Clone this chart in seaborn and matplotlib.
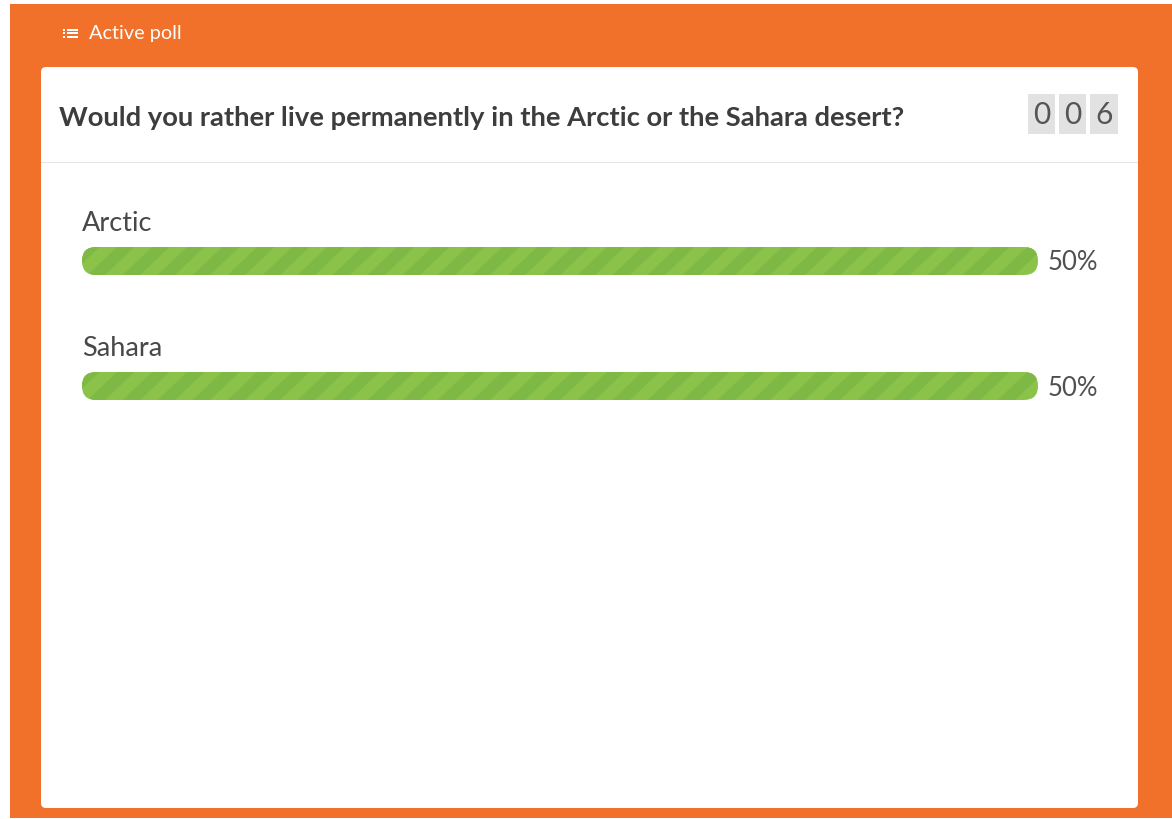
import matplotlib
matplotlib.use('Agg')
import matplotlib.pyplot as plt
import matplotlib.transforms as mtransforms
from matplotlib.patches import FancyBboxPatch, Rectangle, Polygon
import seaborn as sns

# poll data
categories = ['Arctic', 'Sahara']
percents = [50, 50]
question = 'Would you rather live permanently in the Arctic or the Sahara desert?'
vote_digits = ['0', '0', '6']
header = 'Active poll'

ORANGE = '#F1702A'
LIGHT_GREEN = '#8BC34A'
DARK_GREEN = '#7FB945'
W, H = 1172, 819

sns.set_theme(style='white')
plt.rcParams['font.family'] = ['Lato', 'DejaVu Sans']

fig = plt.figure(figsize=(W / 100, H / 100), dpi=100, facecolor='white')
# pixel coordinates, origin at top-left
px = mtransforms.Affine2D().scale(1, -1).translate(0, H).scale(1 / W, 1 / H) + fig.transFigure

# orange frame and white card
fig.patches.append(Rectangle((10, 4), W - 10, H - 5, transform=px, facecolor=ORANGE,
                             edgecolor='none', zorder=0))
fig.patches.append(FancyBboxPatch((41, 67), 1097, 741, boxstyle='round,pad=0,rounding_size=5',
                                  transform=px, facecolor='white', edgecolor='none', zorder=1))
fig.patches.append(Rectangle((41, 161.5), 1097, 1.2, transform=px, facecolor='#E4E4E4',
                             edgecolor='none', zorder=2))

# header icon + label
for yy in (29.5, 33, 36.5):
    fig.patches.append(Rectangle((62.5, yy - 1), 2, 2, transform=px, facecolor='white',
                                 edgecolor='none', zorder=2))
    fig.patches.append(Rectangle((66.5, yy - 1), 11, 2, transform=px, facecolor='white',
                                 edgecolor='none', zorder=2))
fig.text(89, 34, header, transform=px, color='white', fontsize=14.3, va='center', ha='left')

# question
fig.text(59, 117.5, question, transform=px, color='#3D3D3D', fontsize=19.7, fontweight='bold',
         va='center', ha='left')

# vote counter
for i, d in enumerate(vote_digits):
    x0 = 1027.5 + i * 31.3
    fig.patches.append(Rectangle((x0, 94), 27.5, 40, transform=px, facecolor='#E2E2E2',
                                 edgecolor='none', zorder=2))
    fig.text(x0 + 13.75, 115, d, transform=px, color='#555555', fontsize=21.5,
             va='center', ha='center')

# bars
ax = fig.add_axes([82 / W, 1 - 448.5 / H, 956 / W, 250 / H])
ax.set_zorder(5)
sns.barplot(x=percents, y=categories, orient='h', width=0.224, color=LIGHT_GREEN, ax=ax)
ax.set_xlim(0, max(percents))
ax.set_ylim(1.5, -0.5)
ax.axis('off')

ident = mtransforms.IdentityTransform()
for bar in list(ax.patches):
    (x0, y0), (x1, y1) = ax.transData.transform(
        [(bar.get_x(), bar.get_y() + bar.get_height()), (bar.get_x() + bar.get_width(), bar.get_y())])
    bar.set_visible(False)
    h = y1 - y0
    base = FancyBboxPatch((x0, y0), x1 - x0, h, boxstyle=f'round,pad=0,rounding_size={h / 2}',
                          transform=ident, facecolor=LIGHT_GREEN, edgecolor='none', zorder=3)
    ax.add_patch(base)
    period, sw, slant = 35, 17.5, h * 1.05
    xs = x0 - slant
    while xs < x1:
        st = Polygon([(xs, y0), (xs + sw, y0), (xs + sw + slant, y1), (xs + slant, y1)],
                     closed=True, transform=ident, facecolor=DARK_GREEN, edgecolor='none',
                     zorder=4)
        ax.add_patch(st)
        st.set_clip_path(base)
        xs += period

for i, (cat, v) in enumerate(zip(categories, percents)):
    ax.text(0, i - 0.298, cat, color='#484848', fontsize=19.5, va='center', ha='left')
    ax.annotate(f'{v}%', xy=(v, i), xytext=(10, -2), textcoords='offset pixels',
                color='#505050', fontsize=18.5, va='center', ha='left')

fig.savefig('out.png', dpi=100)
